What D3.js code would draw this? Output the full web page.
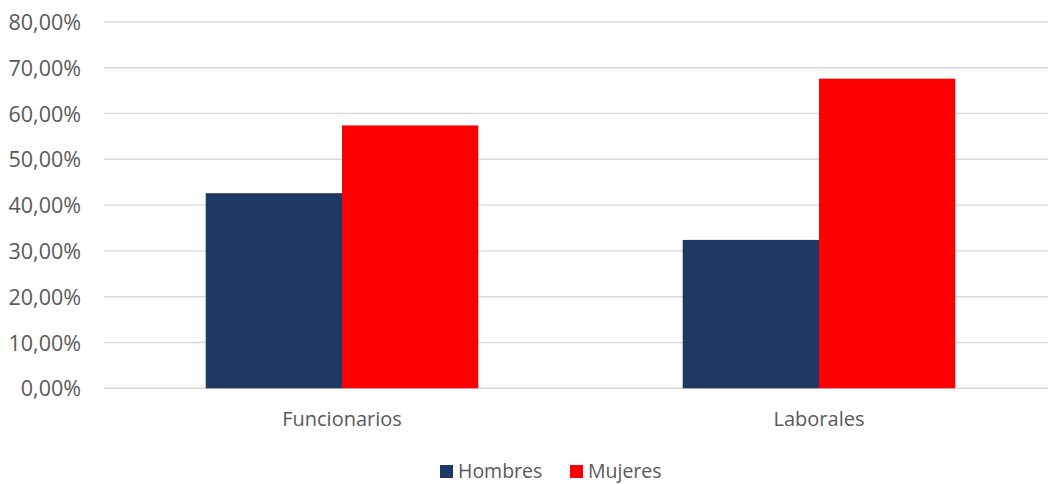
<!DOCTYPE html>
<html>
<head>
<meta charset="utf-8">
<script src="https://cdn.jsdelivr.net/npm/d3@7"></script>
<style>
  body { margin: 0; background: #fff; }
  text { font-family: "Open Sans", "Liberation Sans", sans-serif; fill: #595959; }
</style>
</head>
<body>
<div id="grafico"></div>
<script>
'use strict';

// datos
var categorias = ["Funcionarios", "Laborales"];
var series = ["Hombres", "Mujeres"];
var hombres = [0.426, 0.324];
var mujeres = [0.574, 0.676];
var ticks = [0, 0.1, 0.2, 0.3, 0.4, 0.5, 0.6, 0.7, 0.8];
var colores = ["#203864", "#ff0000"];

var width = 1050,
    height = 484;

var svg = d3.select("#grafico").append("svg")
    .attr("width", width)
    .attr("height", height);

var x = d3.scaleBand()
    .domain(categorias)
    .range([103.5, 1057.5]);

var xSerie = d3.scaleBand()
    .domain(series)
    .range([0, x.bandwidth()])
    .paddingOuter(0.75);

var y = d3.scaleLinear()
    .domain([0, 0.8])
    .range([388.3, 21.9]);

var fmt = function(v) { return d3.format(".2f")(v * 100).replace(".", ",") + "%"; };

// lineas de la cuadricula
svg.selectAll(".grid")
    .data(ticks)
  .enter().append("line")
    .attr("class", "grid")
    .attr("x1", 104)
    .attr("x2", 1048)
    .attr("y1", function(d) { return y(d); })
    .attr("y2", function(d) { return y(d); })
    .attr("stroke", "#d9d9d9")
    .attr("stroke-width", 1.4);

// eje y
var ejeY = d3.axisLeft(y).tickValues(ticks).tickFormat(fmt).tickSize(0).tickPadding(0);
svg.append("g")
    .attr("transform", "translate(81,0)")
    .call(ejeY)
    .call(function(g) { g.select(".domain").remove(); })
    .selectAll("text")
    .style("font-size", "21.5px")
    .attr("fill", "#595959")
    .attr("dy", "0.35em");

// barras
var filas = categorias.map(function(c, i) {
  return { cat: c, valores: [hombres[i], mujeres[i]] };
});

var grupo = svg.selectAll(".grupo")
    .data(filas)
  .enter().append("g")
    .attr("class", "grupo")
    .attr("transform", function(d) { return "translate(" + x(d.cat) + ",0)"; });

grupo.selectAll("rect")
    .data(function(d) { return d.valores.map(function(v, j) { return { serie: series[j], v: v, j: j }; }); })
  .enter().append("rect")
    .attr("x", function(d) { return xSerie(d.serie); })
    .attr("width", xSerie.bandwidth())
    .attr("y", function(d) { return y(d.v); })
    .attr("height", function(d) { return y(0) - y(d.v); })
    .attr("fill", function(d) { return colores[d.j]; });

// eje x
var ejeX = d3.axisBottom(x).tickSize(0).tickPadding(0);
svg.append("g")
    .attr("transform", "translate(0,426)")
    .call(ejeX)
    .call(function(g) { g.select(".domain").remove(); })
    .selectAll("text")
    .style("font-size", "20px")
    .attr("fill", "#595959")
    .attr("dy", "0");

// leyenda
var leyendaX = [440, 570];
var leyenda = svg.selectAll(".leyenda")
    .data(series)
  .enter().append("g")
    .attr("class", "leyenda")
    .attr("transform", function(d, i) { return "translate(" + leyendaX[i] + ",465)"; });

leyenda.append("rect")
    .attr("width", 13)
    .attr("height", 13)
    .attr("fill", function(d, i) { return colores[i]; });

leyenda.append("text")
    .attr("x", 18)
    .attr("y", 13)
    .style("font-size", "19.5px")
    .text(function(d) { return d; });
</script>
</body>
</html>
